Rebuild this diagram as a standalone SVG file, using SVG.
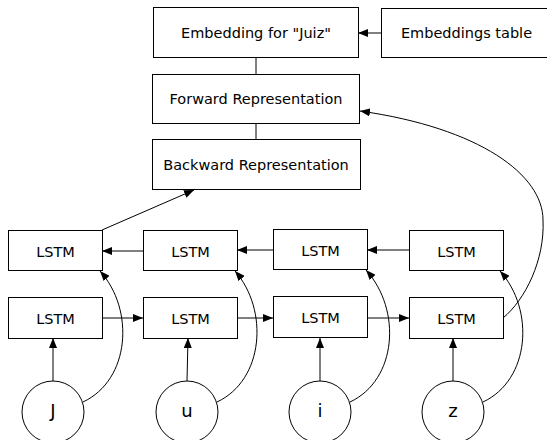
<svg xmlns="http://www.w3.org/2000/svg" width="547" height="440" viewBox="0 0 547 440">
<style>
.box{fill:#fff;stroke:#000;stroke-width:1}
.t{font-family:"DejaVu Sans",sans-serif;font-size:14.5px;text-anchor:middle;fill:#000}
.c{font-family:"DejaVu Sans",sans-serif;font-size:18px;text-anchor:middle;fill:#000}
.e{fill:none;stroke:#000;stroke-width:1}
</style>
<defs>
<marker id="ah" viewBox="0 0 10 8" refX="10" refY="4" markerWidth="10" markerHeight="8" markerUnits="userSpaceOnUse" orient="auto">
<path d="M0,0 L10,4 L0,8 Z" fill="#000"/>
</marker>
</defs>
<rect width="547" height="440" fill="#fff"/>
<g id="edges">
<path class="e" d="M381,33 L358,33" marker-end="url(#ah)"/>
<path class="e" d="M256,57 L256,74"/>
<path class="e" d="M256,123 L256,139"/>
<path class="e" d="M102,230 L194,190" marker-end="url(#ah)"/>
<path class="e" d="M503,318 C525,300 545,260 543,220 C543,175 480,128 360,111" marker-end="url(#ah)"/>
<path class="e" d="M143,251 L102,251" marker-end="url(#ah)"/>
<path class="e" d="M273,250 L237,250" marker-end="url(#ah)"/>
<path class="e" d="M409,250 L367,250" marker-end="url(#ah)"/>
<path class="e" d="M102,318 L143,318" marker-end="url(#ah)"/>
<path class="e" d="M237,318 L273,318" marker-end="url(#ah)"/>
<path class="e" d="M367,318 L409,318" marker-end="url(#ah)"/>
<path class="e" d="M53,381 L53,338" marker-end="url(#ah)"/>
<path class="e" d="M187,381 L188,338" marker-end="url(#ah)"/>
<path class="e" d="M320,381 L320,338" marker-end="url(#ah)"/>
<path class="e" d="M453,381 L453,338" marker-end="url(#ah)"/>
<path class="e" d="M83,402 C130,380 135,310 100,271" marker-end="url(#ah)"/>
<path class="e" d="M217,402 C264,380 269,310 235,271" marker-end="url(#ah)"/>
<path class="e" d="M350,402 C397,380 402,310 366,270" marker-end="url(#ah)"/>
<path class="e" d="M483,402 C530,380 535,310 500,271" marker-end="url(#ah)"/>
</g>
<g id="emb"><rect class="box" x="153.5" y="7.5" width="205" height="50"/><text class="t" x="256" y="37.5">Embedding for "Juiz"</text></g>
<g id="table"><rect class="box" x="381.5" y="8.5" width="172" height="49"/><text class="t" x="466.5" y="37.5">Embeddings table</text></g>
<g id="fwd"><rect class="box" x="152.5" y="74.5" width="207" height="49"/><text class="t" x="256" y="103.5">Forward Representation</text></g>
<g id="bwd"><rect class="box" x="152.5" y="139.5" width="208" height="50"/><text class="t" x="256" y="169.5">Backward Representation</text></g>
<g id="b1"><rect class="box" x="8.5" y="230.5" width="94" height="40"/><text class="t" x="55.5" y="256.5">LSTM</text></g>
<g id="b2"><rect class="box" x="143.5" y="230.5" width="94" height="40"/><text class="t" x="190.5" y="256.5">LSTM</text></g>
<g id="b3"><rect class="box" x="273.5" y="229.5" width="94" height="40"/><text class="t" x="320.5" y="255.5">LSTM</text></g>
<g id="b4"><rect class="box" x="409.5" y="230.5" width="94" height="40"/><text class="t" x="456.5" y="256.5">LSTM</text></g>
<g id="f1"><rect class="box" x="8.5" y="297.5" width="94" height="41"/><text class="t" x="55.5" y="323.5">LSTM</text></g>
<g id="f2"><rect class="box" x="143.5" y="297.5" width="94" height="41"/><text class="t" x="190.5" y="323.5">LSTM</text></g>
<g id="f3"><rect class="box" x="273.5" y="296.5" width="94" height="41"/><text class="t" x="320.5" y="322.5">LSTM</text></g>
<g id="f4"><rect class="box" x="409.5" y="297.5" width="94" height="41"/><text class="t" x="456.5" y="323.5">LSTM</text></g>
<g id="cJ"><circle class="box" cx="53" cy="412" r="31"/><text class="c" x="53" y="417">J</text></g>
<g id="cu"><circle class="box" cx="187" cy="412" r="31"/><text class="c" x="187" y="417">u</text></g>
<g id="ci"><circle class="box" cx="320" cy="412" r="31"/><text class="c" x="320" y="417">i</text></g>
<g id="cz"><circle class="box" cx="453" cy="412" r="31"/><text class="c" x="453" y="417">z</text></g>
</svg>
